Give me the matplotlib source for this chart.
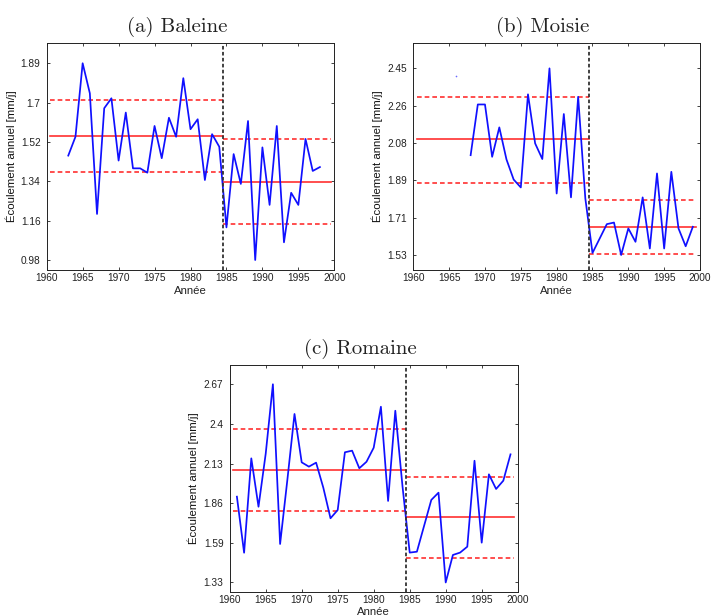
import matplotlib
matplotlib.use("Agg")
import matplotlib.pyplot as plt
import numpy as np

# ---------------- data ----------------
years_baleine = list(range(1963, 1999))
baleine = [1.463, 1.550, 1.89, 1.751, 1.193, 1.682, 1.728, 1.440, 1.662, 1.404,
           1.404, 1.384, 1.600, 1.451, 1.638, 1.550, 1.821, 1.585, 1.631, 1.350,
           1.562, 1.504, 1.131, 1.470, 1.332, 1.623, 0.98, 1.501, 1.235, 1.600,
           1.062, 1.291, 1.235, 1.540, 1.392, 1.410]

years_moisie = list(range(1968, 2000))
moisie = [2.022, 2.272, 2.272, 2.014, 2.159, 2.001, 1.902, 1.863, 2.322, 2.080,
          2.003, 2.45, 1.833, 2.225, 1.814, 2.310, 1.809, 1.540, 1.611, 1.682,
          1.690, 1.53, 1.661, 1.595, 1.814, 1.562, 1.932, 1.562, 1.940, 1.661,
          1.573, 1.669]
moisie_isolated_year = [1966]
moisie_isolated = [2.414]

years_romaine = list(range(1961, 2000))
romaine = [1.910, 1.531, 2.169, 1.842, 2.20, 2.67, 1.590, 2.02, 2.469, 2.142,
           2.113, 2.140, 1.971, 1.764, 1.820, 2.210, 2.221, 2.102, 2.146, 2.241,
           2.518, 1.881, 2.491, 1.98, 1.532, 1.538, 1.713, 1.888, 1.937, 1.33,
           1.516, 1.532, 1.572, 2.153, 1.599, 2.061, 1.962, 2.018, 2.196]

# segment statistics: (mean, upper, lower) before / after the break
stats_before = {"a": (1.555, 1.720, 1.389), "b": (2.100, 2.310, 1.886), "c": (2.09, 2.369, 1.813)}
stats_after = {"a": (1.342, 1.540, 1.145), "b": (1.666, 1.800, 1.537), "c": (1.775, 2.045, 1.498)}
break_year = 1984.5
seg_before = (1960.5, 1984.5)
seg_after = (1984.5, 1999.5)

ytick_labels = {
    "a": ["0.98", "1.16", "1.34", "1.52", "1.7", "1.89"],
    "b": ["1.53", "1.71", "1.89", "2.08", "2.26", "2.45"],
    "c": ["1.33", "1.59", "1.86", "2.13", "2.4", "2.67"],
}
titles = {"a": "(a) Baleine", "b": "(b) Moisie", "c": "(c) Romaine"}
xticks = [1960, 1965, 1970, 1975, 1980, 1985, 1990, 1995, 2000]

# ---------------- figure ----------------
W, H = 711, 615
fig = plt.figure(figsize=(W / 100, H / 100), dpi=100)

def ax_rect(l, r, t, b):
    return [l / W, (H - b) / H, (r - l) / W, (b - t) / H]

panels = {
    "a": dict(rect=ax_rect(46.7, 334.3, 42.7, 270), ylim=(0.934, 1.985),
              x=years_baleine, y=baleine),
    "b": dict(rect=ax_rect(413.3, 700, 43, 270), ylim=(1.456, 2.575),
              x=years_moisie, y=moisie),
    "c": dict(rect=ax_rect(229.7, 517.7, 365, 591.5), ylim=(1.269, 2.80),
              x=years_romaine, y=romaine),
}

sans = ["Liberation Sans", "DejaVu Sans"]
blue = "#1010ff"
red = "#ff3030"

for key, p in panels.items():
    ax = fig.add_axes(p["rect"])
    ax.plot(p["x"], p["y"], color=blue, lw=1.25, zorder=3)
    if key == "b":
        ax.plot(moisie_isolated_year, moisie_isolated, ls="none", marker="o",
                ms=1.2, mec="none", mfc="#6a6aff", zorder=3)
    m, u, lo = stats_before[key]
    ax.plot(seg_before, [m, m], color=red, lw=1.2, zorder=2)
    ax.plot(seg_before, [u, u], color=red, lw=1.2, ls=(0, (2.8, 1.8)), zorder=2)
    ax.plot(seg_before, [lo, lo], color=red, lw=1.2, ls=(0, (2.8, 1.8)), zorder=2)
    m, u, lo = stats_after[key]
    ax.plot(seg_after, [m, m], color=red, lw=1.2, zorder=2)
    ax.plot(seg_after, [u, u], color=red, lw=1.2, ls=(0, (2.8, 1.8)), zorder=2)
    ax.plot(seg_after, [lo, lo], color=red, lw=1.2, ls=(0, (2.8, 1.8)), zorder=2)
    ax.axvline(break_year, color="#333333", lw=1.3, ls=(0, (2.0, 1.3)), zorder=4)

    labels = ytick_labels[key]
    vals = [float(s) for s in labels]
    yt = np.linspace(vals[0], vals[-1], len(labels))
    ax.set_xlim(1960, 2000)
    ax.set_ylim(*p["ylim"])
    ax.set_xticks(xticks)
    ax.set_xticklabels([str(v) for v in xticks], fontfamily=sans, fontsize=7.3)
    ax.set_yticks(yt)
    ax.set_yticklabels(labels, fontfamily=sans, fontsize=7.3)
    ax.tick_params(direction="in", length=2.5, width=0.6, top=True, right=True,
                   colors="#222222", pad=2.5)
    ax.tick_params(axis="y", pad=4.5)
    for sp in ax.spines.values():
        sp.set_linewidth(0.7)
        sp.set_color("#222222")
    ax.set_xlabel("Année", fontfamily=sans, fontsize=8.2, color="#222222", labelpad=1.5)
    ax.set_ylabel("Écoulement annuel [mm/j]", fontfamily=sans, fontsize=8.2,
                  color="#111111", labelpad=3)
    ax.text(0.453, 1 + 11 / 227, titles[key], transform=ax.transAxes,
            ha="center", va="baseline", fontfamily="cmr10", fontsize=15,
            color="#222222")

fig.savefig("out.png", dpi=100)
